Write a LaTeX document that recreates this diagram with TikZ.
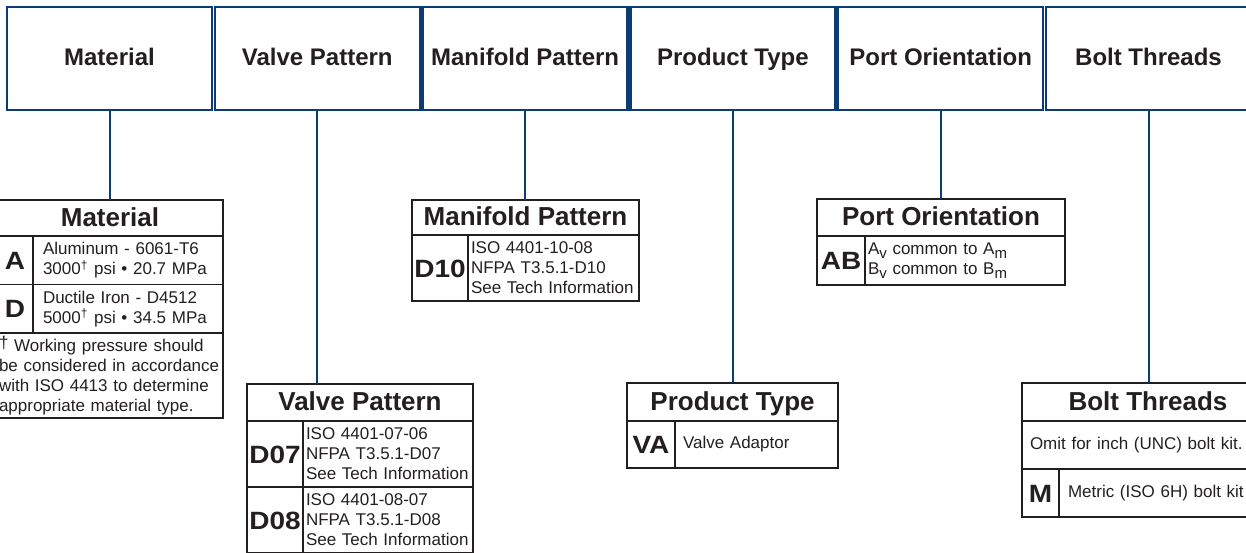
\documentclass[tikz,border=0pt]{standalone}
\usepackage{fontspec}
\setmainfont{Liberation Sans}
\newfontfamily\codefam[FakeStretch=1.12]{Liberation Sans}
\usetikzlibrary{positioning}

\definecolor{navy}{RGB}{12,60,115}
\definecolor{ink}{RGB}{35,31,32}

\newcommand{\toptxt}{\bfseries\fontsize{12}{14}\selectfont}
\newcommand{\hdtxt}{\bfseries\fontsize{13}{15}\selectfont}
\newcommand{\codetxt}{\codefam\bfseries\fontsize{12.5}{14}\selectfont}
\newcommand{\celltxt}{\fontsize{8.5}{10}\selectfont}
\newcommand{\lowidx}[1]{\raisebox{-0.45ex}{\fontsize{7.5}{8}\selectfont #1}}

\begin{document}
\begin{tikzpicture}[x=0.5pt, y=-0.5pt,
    topbox/.style={draw=navy, line width=1.25pt, minimum width=102.5pt, minimum height=51.5pt,
      inner sep=0pt, outer sep=0pt, text=ink, font=\toptxt, text height=8.6pt, text depth=2pt},
    link/.style={draw=navy, line width=1pt},
    hdcell/.style={draw=ink, line width=0.75pt, inner sep=0pt, outer sep=0pt,
      anchor=north west, text=ink, font=\hdtxt, text height=9.3pt, text depth=1pt},
    codecell/.style={draw=ink, line width=0.75pt, inner sep=0pt, outer sep=0pt,
      anchor=north west, text=ink, font=\codetxt, text height=9pt, text depth=0pt},
    desccell/.style={draw=ink, line width=0.75pt, inner xsep=1.5pt, inner ysep=0pt, outer sep=0pt,
      anchor=north west, text=ink, font=\celltxt, align=left},
    tabframe/.style={draw=ink, line width=1.3pt}]

    % Page area
    \useasboundingbox (0,0) rectangle (1246,552);
    \clip (0,0) rectangle (1246,552);

    % Headings of the model code
    \node[topbox] (mat) at (109.5,58.5) {Material};
    \node[topbox] (vp) at (317.3,58.5) {Valve Pattern};
    \node[topbox] (mp) at (525.1,58.5) {Manifold Pattern};
    \node[topbox] (pt) at (732.9,58.5) {Product Type};
    \node[topbox] (po) at (940.7,58.5) {Port Orientation};
    \node[topbox] (bt) at (1148.5,58.5) {Bolt Threads};

    % Material table
    \node[hdcell, minimum width=113pt, minimum height=18pt] (mathd) at (-3,200) {Material};
    \node[codecell, minimum width=18pt, minimum height=24.25pt] (matA) at (mathd.south west) {A};
    \node[desccell, inner xsep=5pt, text width=85pt, minimum height=24.25pt] (matAd) at (matA.north east)
      {Aluminum - 6061-T6\\3000\textsuperscript{†} psi • 20.7 MPa};
    \node[codecell, minimum width=18pt, minimum height=24.25pt] (matD) at (matA.south west) {D};
    \node[desccell, inner xsep=5pt, text width=85pt, minimum height=24.25pt] (matDd) at (matD.north east)
      {Ductile Iron - D4512\\5000\textsuperscript{†} psi • 34.5 MPa};
    \node[desccell, inner xsep=1pt, text width=111pt, minimum height=42.5pt] (matft) at (matD.south west)
      {\hyphenpenalty=10000 \raisebox{0.35ex}{†} Working pressure should\\be considered in accordance\\with ISO 4413 to determine\\appropriate material type.};
    \draw[tabframe] (mathd.north west) rectangle (matft.south east);

    % Valve pattern table
    \node[hdcell, minimum width=113pt, minimum height=18.5pt] (vphd) at (247,384) {Valve Pattern};
    \node[codecell, minimum width=28pt, minimum height=33pt] (vpA) at (vphd.south west) {D07};
    \node[desccell, text width=82pt, minimum height=33pt] (vpAd) at (vpA.north east)
      {ISO 4401-07-06\\NFPA T3.5.1-D07\\See Tech Information};
    \node[codecell, minimum width=28pt, minimum height=33pt] (vpB) at (vpA.south west) {D08};
    \node[desccell, text width=82pt, minimum height=33pt] (vpBd) at (vpB.north east)
      {ISO 4401-08-07\\NFPA T3.5.1-D08\\See Tech Information};
    \draw[tabframe] (vphd.north west) rectangle (vpBd.south east);

    % Manifold pattern table
    \node[hdcell, minimum width=113.5pt, minimum height=17.5pt] (mphd) at (412,200) {Manifold Pattern};
    \node[codecell, minimum width=28pt, minimum height=33pt] (mpA) at (mphd.south west) {D10};
    \node[desccell, text width=82.5pt, minimum height=33pt] (mpAd) at (mpA.north east)
      {ISO 4401-10-08\\NFPA T3.5.1-D10\\See Tech Information};
    \draw[tabframe] (mphd.north west) rectangle (mpAd.south east);

    % Product type table
    \node[hdcell, minimum width=105.5pt, minimum height=19pt] (pthd) at (627,383) {Product Type};
    \node[codecell, minimum width=24pt, minimum height=23.5pt] (ptA) at (pthd.south west) {VA};
    \node[desccell, inner xsep=4pt, text width=73.5pt, minimum height=23.5pt] (ptAd) at (ptA.north east)
      {Valve Adaptor};
    \draw[tabframe] (pthd.north west) rectangle (ptAd.south east);

    % Port orientation table
    \node[hdcell, minimum width=124pt, minimum height=18.5pt] (pohd) at (817,199) {Port Orientation};
    \node[codecell, minimum width=24pt, minimum height=24.5pt] (poA) at (pohd.south west) {AB};
    \node[desccell, text width=97pt, minimum height=24.5pt] (poAd) at (poA.north east)
      {A\lowidx{v} common to A\lowidx{m}\\B\lowidx{v} common to B\lowidx{m}};
    \draw[tabframe] (pohd.north west) rectangle (poAd.south east);

    % Bolt threads table
    \node[hdcell, minimum width=126pt, minimum height=19pt] (bthd) at (1022,383) {Bolt Threads};
    \node[desccell, inner xsep=4pt, text width=118pt, minimum height=24pt] (btomit) at (bthd.south west)
      {Omit for inch (UNC) bolt kit.};
    \node[codecell, minimum width=18.5pt, minimum height=24pt] (btM) at (btomit.south west) {M};
    \node[desccell, inner xsep=4.5pt, text width=98.5pt, minimum height=24pt] (btMd) at (btM.north east)
      {Metric (ISO 6H) bolt kit};
    \draw[tabframe] (bthd.north west) rectangle (btMd.south east);

    % Links from headings to tables
    \draw[link] (mat.south) -- (mat.south |- mathd.north);
    \draw[link] (vp.south) -- (vp.south |- vphd.north);
    \draw[link] (mp.south) -- (mp.south |- mphd.north);
    \draw[link] (pt.south) -- (pt.south |- pthd.north);
    \draw[link] (po.south) -- (po.south |- pohd.north);
    \draw[link] (bt.south) -- (bt.south |- bthd.north);

\end{tikzpicture}
\end{document}
